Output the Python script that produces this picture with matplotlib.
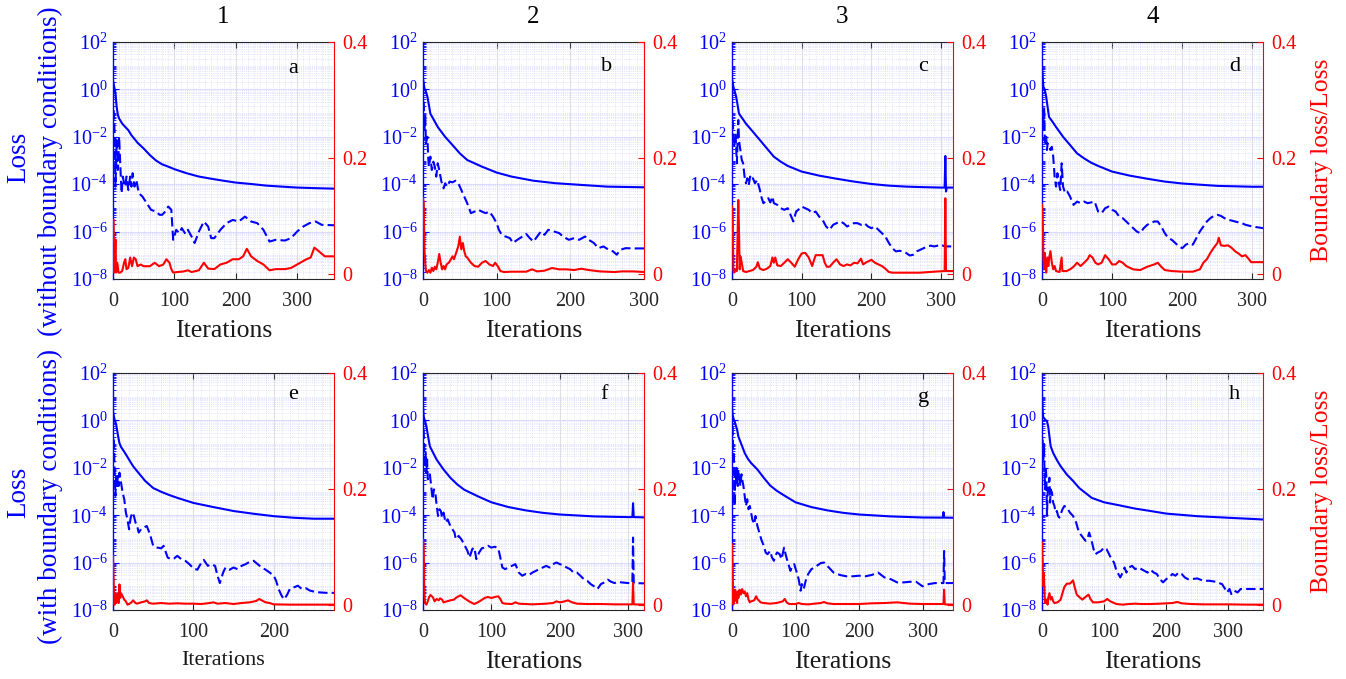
import numpy as np
import matplotlib
matplotlib.use('Agg')
import matplotlib.pyplot as plt
from matplotlib.ticker import FixedLocator, LogLocator, MultipleLocator, NullFormatter, FixedFormatter

plt.rcParams['font.family'] = ['Liberation Serif', 'DejaVu Serif']
plt.rcParams['mathtext.fontset'] = 'custom'
plt.rcParams['mathtext.rm'] = 'Liberation Serif'
plt.rcParams['mathtext.it'] = 'Liberation Serif:italic'
plt.rcParams['mathtext.bf'] = 'Liberation Serif:bold'

# ---------------- data ----------------
column_titles = ['1', '2', '3', '4']
panel_letters = ['a', 'b', 'c', 'd', 'e', 'f', 'g', 'h']
x_max = [360, 300, 317, 315, 275, 323, 348, 356]
x_ticks = [0, 100, 200, 300]
y_ticks = [1e-8, 1e-6, 1e-4, 1e-2, 1e0, 1e2]
y_tick_labels = ['$10^{-8}$', '$10^{-6}$', '$10^{-4}$', '$10^{-2}$', '$10^{0}$', '$10^{2}$']
r_ticks = [0, 0.2, 0.4]
r_tick_labels = ['0', '0.2', '0.4']
row_ylabels = [('Loss', '(without boundary conditions)'), ('Loss', '(with boundary conditions)')]
right_ylabel = 'Boundary loss/Loss'

# panel a
a_loss_x = [0, 2, 4, 6, 8, 10, 15, 20, 25, 30, 40, 50, 60, 70, 80, 90, 100, 120, 140, 160, 180, 200, 225, 250, 275, 300, 330, 360]
a_loss = [2.4, 1.3, 0.68, 0.18, 0.082, 0.059, 0.036, 0.026, 0.019, 0.0117, 5.6e-3, 3.2e-3, 1.7e-3, 1.0e-3, 6.9e-4, 5.5e-4, 4.3e-4, 2.9e-4, 2.1e-4, 1.7e-4, 1.4e-4, 1.17e-4, 1.02e-4, 8.7e-5, 7.9e-5, 7.2e-5, 6.8e-5, 6.5e-5]
a_part_x = [1, 3, 4, 6, 8, 10, 12, 14, 16, 18, 20, 22, 25, 28, 30, 32, 35, 38, 42, 48, 55, 62, 70, 76, 80, 85, 90, 95, 98, 103, 108, 112, 118, 122, 128, 133, 140, 148, 155, 160, 165, 175, 185, 195, 205, 215, 225, 235, 245, 255, 265, 280, 290, 300, 310, 320, 330, 340, 360]
a_part = [1.33e-1, 1.0e-2, 7.9e-5, 7.3e-3, 4.0e-4, 1.0e-2, 5.5e-4, 4.2e-5, 2.1e-4, 1.09e-4, 7.9e-5, 2.1e-4, 5.7e-5, 2.1e-4, 7.9e-5, 2.9e-4, 7.9e-5, 1.51e-4, 4.2e-5, 3.0e-5, 1.58e-5, 8.3e-6, 7.0e-6, 5.1e-6, 5.1e-6, 7.0e-6, 1.14e-5, 8.3e-6, 4.5e-7, 1.19e-6, 8.6e-7, 1.4e-6, 8.0e-7, 1.19e-6, 6.2e-7, 3.3e-7, 1.01e-6, 2.67e-6, 1.64e-6, 5.3e-7, 5.3e-7, 1.19e-6, 2.27e-6, 3.1e-6, 2.67e-6, 4.3e-6, 2.67e-6, 2.27e-6, 1.19e-6, 3.8e-7, 4.5e-7, 4.2e-7, 5.3e-7, 1.01e-6, 1.64e-6, 2.27e-6, 2.67e-6, 1.93e-6, 1.85e-6]
a_ratio_x = [0, 1, 2, 3, 4, 5, 7, 9, 12, 15, 18, 20, 22, 25, 28, 31, 34, 37, 40, 45, 50, 60, 68, 75, 82, 87, 92, 95, 98, 105, 115, 122, 128, 140, 148, 155, 165, 175, 185, 195, 205, 212, 218, 225, 235, 245, 255, 265, 280, 290, 300, 315, 322, 328, 335, 345, 360]
a_ratio = [0.094, 0.094, 0.003, 0.026, 0.06, 0.003, 0.02, 0.003, 0.003, 0.006, 0.02, 0.026, 0.009, 0.011, 0.029, 0.014, 0.029, 0.026, 0.014, 0.017, 0.014, 0.014, 0.02, 0.014, 0.017, 0.026, 0.02, 0.009, 0.003, 0.004, 0.005, 0.007, 0.004, 0.007, 0.02, 0.01, 0.009, 0.017, 0.02, 0.026, 0.026, 0.031, 0.044, 0.031, 0.023, 0.017, 0.007, 0.009, 0.009, 0.011, 0.017, 0.026, 0.029, 0.046, 0.04, 0.031, 0.031]

# panel b
b_loss_x = [0, 2, 4, 6, 8, 10, 15, 20, 30, 40, 50, 60, 70, 80, 100, 120, 150, 180, 200, 250, 300]
b_loss = [2.9, 1.1, 0.8, 0.49, 0.22, 0.095, 0.05, 0.026, 0.01, 4.5e-3, 2.0e-3, 1.05e-3, 7.6e-4, 5.5e-4, 3.1e-4, 2.1e-4, 1.4e-4, 1.1e-4, 1.0e-4, 7.9e-5, 7.4e-5]
b_part_x = [1, 2, 3, 4, 6, 7, 8, 10, 12, 14, 16, 18, 20, 22, 25, 28, 30, 33, 36, 40, 44, 48, 52, 56, 60, 65, 70, 75, 80, 85, 90, 95, 100, 103, 107, 112, 118, 122, 128, 135, 140, 145, 150, 155, 160, 165, 170, 178, 185, 190, 198, 205, 212, 220, 225, 232, 238, 245, 252, 258, 263, 268, 275, 285, 300]
b_part = [2.99e-1, 1.92e-2, 7.0e-2, 5.3e-3, 1.0e-2, 1.45e-3, 5.5e-4, 1.45e-3, 4.0e-4, 8.9e-4, 5.5e-4, 2.1e-4, 7.6e-4, 4.0e-4, 1.29e-4, 6.7e-5, 1.09e-4, 7.9e-5, 1.29e-4, 1.2e-4, 1.4e-4, 1.09e-4, 5.7e-5, 3.0e-5, 1.58e-5, 6.0e-6, 7.0e-6, 8.3e-6, 7.0e-6, 6.0e-6, 7.0e-6, 4.3e-6, 2.27e-6, 1.19e-6, 7.3e-7, 6.2e-7, 5.3e-7, 3.3e-7, 4.5e-7, 6.2e-7, 8.0e-7, 5.3e-7, 3.8e-7, 6.2e-7, 1.01e-6, 7.3e-7, 1.19e-6, 1.01e-6, 8.6e-7, 6.2e-7, 4.5e-7, 5.3e-7, 4.5e-7, 6.2e-7, 4.5e-7, 3.3e-7, 2.0e-7, 2.37e-7, 1.71e-7, 1.46e-7, 1.06e-7, 1.71e-7, 2.0e-7, 1.95e-7, 1.95e-7]
b_ratio_x = [0, 1, 2, 3, 4, 6, 8, 10, 12, 14, 16, 18, 20, 22, 24, 26, 28, 30, 32, 35, 38, 40, 42, 45, 48, 50, 52, 54, 56, 58, 60, 65, 70, 75, 80, 85, 90, 95, 98, 102, 105, 110, 120, 130, 140, 148, 155, 165, 175, 185, 195, 205, 215, 225, 240, 260, 270, 285, 300]
b_ratio = [0.131, 0.123, 0.043, 0.020, 0.0057, 0.0029, 0.0074, 0.0029, 0.0114, 0.0057, 0.0131, 0.0086, 0.020, 0.035, 0.020, 0.0086, 0.0143, 0.0086, 0.0171, 0.020, 0.026, 0.031, 0.026, 0.037, 0.049, 0.065, 0.043, 0.054, 0.040, 0.031, 0.029, 0.020, 0.0143, 0.0131, 0.020, 0.023, 0.0171, 0.0143, 0.020, 0.0131, 0.0057, 0.0040, 0.0046, 0.0046, 0.0046, 0.0086, 0.0051, 0.0063, 0.0109, 0.0086, 0.0086, 0.0074, 0.0097, 0.0074, 0.0051, 0.0040, 0.0051, 0.0051, 0.0040]

# panel c
c_loss_x = [0, 2, 4, 6, 8, 10, 15, 20, 30, 40, 50, 60, 70, 80, 100, 125, 150, 175, 200, 225, 250, 275, 300, 305, 306, 307, 308, 310, 317]
c_loss = [2.9, 1.3, 0.8, 0.49, 0.22, 0.095, 0.059, 0.036, 0.0163, 7.3e-3, 3.25e-3, 1.45e-3, 8.9e-4, 5.9e-4, 3.4e-4, 2.3e-4, 1.7e-4, 1.29e-4, 1.02e-4, 8.7e-5, 7.9e-5, 7.5e-5, 7.2e-5, 7.2e-5, 1.55e-3, 4.9e-5, 7.2e-5, 7.2e-5, 7.2e-5]
c_part_x = [1, 2, 3, 5, 7, 9, 10, 12, 14, 16, 18, 20, 22, 24, 26, 28, 30, 33, 36, 40, 42, 45, 48, 52, 55, 58, 60, 65, 70, 75, 80, 85, 88, 92, 95, 100, 105, 110, 115, 120, 125, 130, 135, 140, 145, 150, 155, 160, 165, 170, 175, 180, 185, 190, 195, 200, 205, 210, 215, 220, 225, 230, 235, 240, 245, 250, 255, 260, 265, 270, 275, 280, 285, 290, 295, 300, 305, 310, 317]
c_part = [5.1e-2, 1.0e-2, 3.8e-3, 1.39e-2, 7.6e-4, 5.1e-2, 7.3e-3, 2.77e-3, 1.05e-3, 7.6e-4, 2.1e-4, 1.09e-4, 1.78e-4, 9.3e-5, 2.1e-4, 1.51e-4, 1.78e-4, 1.09e-4, 1.51e-4, 5.7e-5, 3.0e-5, 1.58e-5, 1.85e-5, 2.56e-5, 1.7e-5, 3.0e-5, 1.58e-5, 1.34e-5, 9.7e-6, 8.3e-6, 9.7e-6, 4.3e-6, 2.67e-6, 7.0e-6, 8.3e-6, 1.14e-5, 9.7e-6, 8.3e-6, 6.0e-6, 7.0e-6, 4.3e-6, 3.1e-6, 1.64e-6, 1.19e-6, 1.93e-6, 2.27e-6, 2.67e-6, 2.27e-6, 1.64e-6, 1.93e-6, 2.27e-6, 2.27e-6, 1.93e-6, 2.27e-6, 1.64e-6, 1.4e-6, 1.64e-6, 1.19e-6, 8.6e-7, 6.2e-7, 3.3e-7, 2.0e-7, 1.46e-7, 1.55e-7, 1.46e-7, 1.24e-7, 9.8e-8, 1.06e-7, 1.46e-7, 1.71e-7, 2.0e-7, 2.37e-7, 2.55e-7, 2.37e-7, 2.55e-7, 2.8e-7, 2.37e-7, 2.37e-7, 2.37e-7]
c_ratio_x = [0, 1, 2, 3, 5, 7, 9, 10, 11, 12, 14, 16, 20, 25, 30, 35, 37, 40, 45, 50, 55, 58, 60, 62, 65, 70, 75, 80, 85, 90, 95, 100, 105, 110, 115, 118, 120, 125, 130, 133, 136, 140, 145, 150, 155, 160, 165, 170, 175, 180, 185, 188, 193, 200, 205, 210, 215, 220, 225, 230, 250, 270, 290, 305, 306, 307, 317]
c_ratio = [0.117, 0.100, 0.0086, 0.0029, 0.0086, 0.0057, 0.128, 0.077, 0.0086, 0.031, 0.020, 0.0057, 0.0040, 0.0057, 0.0074, 0.0131, 0.021, 0.0097, 0.0074, 0.0097, 0.0143, 0.029, 0.020, 0.029, 0.0154, 0.0143, 0.020, 0.026, 0.020, 0.0131, 0.026, 0.036, 0.037, 0.029, 0.0143, 0.026, 0.033, 0.033, 0.033, 0.020, 0.0131, 0.0131, 0.020, 0.026, 0.0171, 0.0143, 0.0171, 0.0154, 0.020, 0.019, 0.027, 0.0171, 0.021, 0.025, 0.020, 0.0171, 0.0143, 0.0097, 0.0040, 0.0029, 0.0029, 0.0029, 0.0046, 0.0057, 0.131, 0.0057, 0.0057]

# panel d
d_loss_x = [0, 1, 2, 4, 6, 8, 10, 15, 20, 30, 40, 50, 60, 70, 80, 100, 125, 150, 175, 200, 250, 300, 315]
d_loss = [10.0, 3.4, 1.3, 0.96, 0.49, 0.18, 0.069, 0.043, 0.026, 0.01, 4.5e-3, 2.0e-3, 1.23e-3, 8.1e-4, 5.9e-4, 3.4e-4, 2.3e-4, 1.7e-4, 1.29e-4, 1.07e-4, 8.5e-5, 7.8e-5, 7.8e-5]
d_part_x = [1, 2, 3, 4, 5, 6, 7, 8, 10, 12, 14, 16, 18, 20, 22, 24, 26, 28, 30, 33, 36, 40, 45, 50, 55, 60, 65, 70, 75, 80, 85, 90, 95, 100, 105, 110, 115, 120, 125, 130, 135, 140, 145, 150, 155, 160, 165, 170, 175, 180, 185, 190, 195, 200, 205, 210, 215, 220, 225, 230, 235, 240, 245, 250, 255, 260, 265, 270, 275, 280, 285, 290, 300, 315]
d_part = [9.7e-2, 1.92e-2, 1.84e-1, 7.3e-3, 5.3e-3, 1.0e-2, 2.77e-3, 5.3e-3, 4.5e-3, 2.77e-3, 3.8e-3, 1.45e-3, 2.1e-4, 7.9e-5, 2.9e-4, 1.09e-4, 5.7e-5, 7.6e-4, 7.9e-5, 4.2e-5, 4.9e-5, 3.0e-5, 1.34e-5, 1.85e-5, 1.58e-5, 1.85e-5, 1.58e-5, 1.7e-5, 1.85e-5, 7.0e-6, 6.0e-6, 9.7e-6, 1.14e-5, 8.3e-6, 7.0e-6, 4.3e-6, 3.7e-6, 2.67e-6, 1.93e-6, 1.4e-6, 1.01e-6, 8.6e-7, 1.4e-6, 1.93e-6, 2.27e-6, 2.67e-6, 2.67e-6, 1.64e-6, 8.6e-7, 5.3e-7, 4.5e-7, 3.3e-7, 2.37e-7, 2.0e-7, 2.8e-7, 3.3e-7, 2.8e-7, 5.3e-7, 1.01e-6, 1.64e-6, 2.67e-6, 3.7e-6, 4.6e-6, 5.1e-6, 4.6e-6, 3.7e-6, 3.1e-6, 2.95e-6, 2.67e-6, 2.45e-6, 2.27e-6, 1.93e-6, 1.64e-6, 1.4e-6]
d_ratio_x = [0, 1, 2, 3, 4, 5, 6, 7, 8, 9, 10, 12, 14, 16, 18, 20, 25, 28, 29, 35, 40, 45, 50, 55, 60, 65, 68, 72, 76, 80, 85, 90, 95, 100, 105, 110, 115, 120, 130, 140, 150, 160, 165, 170, 175, 185, 200, 215, 225, 230, 235, 240, 245, 250, 252, 255, 260, 265, 270, 275, 280, 285, 290, 295, 298, 315]
d_ratio = [0.120, 0.100, 0.031, 0.0086, 0.037, 0.020, 0.0029, 0.020, 0.029, 0.0143, 0.026, 0.040, 0.020, 0.0086, 0.0143, 0.0057, 0.0040, 0.029, 0.0057, 0.0057, 0.0086, 0.0131, 0.020, 0.0143, 0.020, 0.026, 0.033, 0.029, 0.020, 0.0171, 0.020, 0.033, 0.026, 0.0171, 0.0171, 0.023, 0.020, 0.0143, 0.0086, 0.0074, 0.0131, 0.0171, 0.020, 0.0131, 0.0074, 0.0057, 0.0046, 0.0046, 0.0086, 0.020, 0.026, 0.037, 0.046, 0.054, 0.063, 0.050, 0.049, 0.050, 0.046, 0.040, 0.036, 0.031, 0.033, 0.026, 0.021, 0.021]

# panel e
e_loss_x = [0, 2, 4, 6, 8, 10, 15, 20, 25, 30, 40, 50, 60, 70, 80, 100, 125, 150, 175, 200, 225, 250, 275]
e_loss = [2.4, 1.07, 0.66, 0.25, 0.11, 0.076, 0.042, 0.022, 0.0117, 7.2e-3, 2.8e-3, 1.4e-3, 9.7e-4, 7.1e-4, 5.4e-4, 3.3e-4, 2.2e-4, 1.5e-4, 1.15e-4, 9.1e-5, 7.8e-5, 7.1e-5, 7.1e-5]
e_part_x = [1, 2, 3, 4, 5, 6, 7, 8, 9, 10, 12, 14, 16, 18, 20, 22, 24, 26, 28, 30, 32, 35, 38, 42, 46, 50, 55, 60, 63, 68, 72, 76, 80, 85, 90, 95, 100, 105, 110, 113, 118, 122, 127, 130, 133, 137, 140, 145, 150, 155, 160, 165, 170, 175, 180, 185, 190, 195, 200, 203, 206, 210, 213, 217, 220, 225, 230, 235, 240, 245, 250, 255, 265, 275]
e_part = [1.57e-1, 8.6e-3, 6.5e-4, 5.3e-3, 1.45e-3, 4.5e-3, 1.7e-3, 6.2e-3, 3.8e-3, 2.35e-3, 8.9e-4, 4.7e-4, 1.29e-4, 6.7e-5, 2.56e-5, 7.9e-5, 1.29e-4, 9.3e-5, 4.9e-5, 3.5e-5, 1.85e-5, 2.56e-5, 3.0e-5, 3.5e-5, 1.58e-5, 5.1e-6, 4.3e-6, 4.0e-6, 5.1e-6, 1.64e-6, 1.4e-6, 1.5e-6, 1.93e-6, 1.4e-6, 1.19e-6, 8.6e-7, 5.7e-7, 5.0e-7, 1.01e-6, 1.3e-6, 7.3e-7, 8.6e-7, 7.3e-7, 2.8e-7, 1.37e-7, 3.8e-7, 6.2e-7, 5.0e-7, 6.2e-7, 5.3e-7, 7.3e-7, 8.6e-7, 1.08e-6, 1.19e-6, 8.6e-7, 6.2e-7, 5.0e-7, 3.8e-7, 2.8e-7, 1.71e-7, 7.7e-8, 3.9e-8, 2.8e-8, 4.6e-8, 7.7e-8, 9.0e-8, 1.06e-7, 7.7e-8, 8.3e-8, 6.6e-8, 6.0e-8, 5.6e-8, 5.3e-8, 5.3e-8]
e_ratio_x = [0, 1, 2, 3, 4, 5, 6, 7, 8, 9, 10, 12, 14, 16, 18, 20, 23, 25, 28, 30, 35, 40, 42, 45, 50, 60, 70, 80, 90, 100, 110, 120, 125, 130, 140, 150, 160, 170, 178, 182, 185, 190, 195, 200, 220, 240, 275]
e_ratio = [0.085, 0.033, 0.0012, 0.021, 0.0040, 0.0127, 0.021, 0.0040, 0.036, 0.0127, 0.021, 0.0156, 0.0098, 0.0069, 0.0012, 0.0023, 0.0052, 0.0086, 0.0040, 0.0029, 0.0052, 0.0069, 0.0086, 0.0040, 0.0029, 0.0040, 0.0029, 0.0035, 0.0029, 0.0029, 0.0023, 0.0040, 0.0052, 0.0029, 0.0040, 0.0023, 0.0040, 0.0052, 0.0075, 0.0110, 0.0086, 0.0052, 0.0040, 0.0017, 0.0012, 0.0012, 0.0012]

# panel f
f_loss_x = [0, 1, 3, 5, 7, 10, 15, 20, 30, 40, 50, 60, 70, 80, 100, 125, 150, 175, 200, 250, 300, 306, 307, 308, 310, 323]
f_loss = [4.0, 1.5, 0.9, 0.56, 0.25, 0.081, 0.042, 0.022, 8.5e-3, 3.8e-3, 2.0e-3, 1.2e-3, 8.7e-4, 6.3e-4, 3.5e-4, 2.2e-4, 1.6e-4, 1.26e-4, 1.07e-4, 8.9e-5, 8.3e-5, 8.3e-5, 3.2e-4, 8.3e-5, 8.3e-5, 8.1e-5]
f_part_x = [1, 2, 3, 4, 5, 6, 7, 8, 10, 12, 14, 16, 18, 20, 22, 24, 26, 28, 30, 33, 36, 40, 43, 46, 48, 52, 56, 60, 65, 68, 72, 75, 78, 82, 86, 90, 95, 100, 105, 110, 113, 116, 120, 125, 130, 135, 140, 145, 150, 155, 160, 165, 170, 175, 180, 185, 190, 195, 200, 205, 210, 215, 220, 225, 230, 235, 240, 245, 250, 255, 260, 265, 270, 275, 280, 285, 290, 300, 306, 307, 308, 323]
f_part = [4.13e-1, 3.1e-2, 1.18e-2, 4.3e-2, 6.2e-3, 2.25e-2, 3.25e-3, 3.8e-3, 5.3e-3, 1.7e-3, 4.7e-4, 1.23e-3, 8.9e-4, 2.45e-4, 9.3e-5, 1.78e-4, 1.51e-4, 7.9e-5, 1.29e-4, 4.9e-5, 6.7e-5, 3.5e-5, 2.56e-5, 1.85e-5, 9.7e-6, 1.34e-5, 9.7e-6, 6.0e-6, 3.1e-6, 1.64e-6, 3.7e-6, 4.3e-6, 1.4e-6, 2.67e-6, 4.0e-6, 4.3e-6, 5.1e-6, 4.3e-6, 4.7e-6, 4.0e-6, 1.64e-6, 6.2e-7, 5.3e-7, 6.2e-7, 7.3e-7, 8.6e-7, 3.8e-7, 2.8e-7, 3.3e-7, 3.0e-7, 3.8e-7, 4.5e-7, 5.3e-7, 6.2e-7, 7.3e-7, 6.2e-7, 8.6e-7, 1.01e-6, 8.6e-7, 7.8e-7, 6.2e-7, 5.3e-7, 3.8e-7, 3.8e-7, 2.8e-7, 2.0e-7, 1.71e-7, 1.24e-7, 1.0e-7, 7.7e-8, 1.24e-7, 1.46e-7, 1.9e-7, 1.55e-7, 1.37e-7, 1.55e-7, 1.46e-7, 1.37e-7, 1.37e-7, 1.14e-5, 1.37e-7, 1.33e-7]
f_ratio_x = [0, 1, 2, 3, 5, 7, 9, 11, 13, 15, 17, 20, 23, 25, 28, 30, 35, 40, 45, 50, 55, 60, 65, 70, 75, 80, 85, 90, 95, 100, 105, 110, 113, 116, 120, 130, 135, 140, 150, 160, 170, 180, 190, 195, 200, 205, 212, 218, 225, 240, 260, 280, 300, 306, 307, 308, 323]
f_ratio = [0.113, 0.102, 0.021, 0.0040, 0.0012, 0.0069, 0.0144, 0.0179, 0.0156, 0.0127, 0.0069, 0.0110, 0.0086, 0.0121, 0.0098, 0.0052, 0.0069, 0.0086, 0.0098, 0.0144, 0.0173, 0.0127, 0.0086, 0.0052, 0.0023, 0.0052, 0.0086, 0.0127, 0.0144, 0.0127, 0.0144, 0.0156, 0.0110, 0.0040, 0.0029, 0.0023, 0.0052, 0.0029, 0.0023, 0.0017, 0.0023, 0.0029, 0.0040, 0.0069, 0.0052, 0.0063, 0.0086, 0.0052, 0.0029, 0.0023, 0.0023, 0.0017, 0.0017, 0.0017, 0.0386, 0.0017, 0.0012]

# panel g
g_loss_x = [0, 1, 3, 5, 8, 10, 15, 20, 25, 30, 40, 50, 60, 70, 80, 100, 125, 150, 175, 200, 250, 300, 332, 333, 334, 335, 348]
g_loss = [4.0, 1.7, 1.07, 0.77, 0.41, 0.21, 0.095, 0.042, 0.024, 0.016, 8.5e-3, 3.8e-3, 1.8e-3, 1.1e-3, 7.4e-4, 3.5e-4, 2.2e-4, 1.6e-4, 1.26e-4, 1.07e-4, 8.9e-5, 8.0e-5, 7.9e-5, 1.35e-4, 7.9e-5, 7.9e-5, 7.8e-5]
g_part_x = [1, 2, 3, 4, 5, 6, 7, 8, 9, 10, 11, 12, 13, 15, 16, 18, 20, 22, 24, 26, 28, 30, 32, 35, 37, 40, 43, 46, 50, 53, 56, 60, 63, 66, 68, 71, 75, 78, 82, 85, 88, 92, 95, 98, 102, 105, 108, 110, 113, 116, 120, 125, 130, 135, 140, 145, 150, 160, 170, 180, 190, 200, 210, 220, 230, 240, 250, 260, 270, 280, 290, 300, 310, 320, 332, 333, 334, 335, 348]
g_part = [5.7e-1, 2.25e-2, 4.3e-2, 2.45e-4, 1.18e-2, 2.35e-3, 1.0e-2, 5.3e-3, 1.7e-3, 8.6e-3, 3.25e-3, 5.3e-3, 1.7e-3, 5.3e-3, 3.25e-3, 1.7e-3, 6.5e-4, 2.45e-4, 4.7e-4, 1.78e-4, 2.45e-4, 1.29e-4, 6.7e-5, 4.2e-5, 9.3e-5, 3.5e-5, 1.85e-5, 9.7e-6, 5.1e-6, 2.67e-6, 2.27e-6, 3.1e-6, 1.64e-6, 1.19e-6, 1.93e-6, 2.67e-6, 2.27e-6, 1.4e-6, 4.3e-6, 1.93e-6, 1.01e-6, 4.5e-7, 7.3e-7, 8.6e-7, 3.8e-7, 2.0e-7, 6.5e-8, 1.24e-7, 7.7e-8, 1.71e-7, 3.3e-7, 5.3e-7, 6.2e-7, 7.8e-7, 9.6e-7, 1.01e-6, 7.3e-7, 3.8e-7, 3.0e-7, 2.65e-7, 2.65e-7, 2.8e-7, 2.65e-7, 3.0e-7, 3.8e-7, 2.37e-7, 2.0e-7, 1.46e-7, 1.46e-7, 1.55e-7, 1.55e-7, 1.0e-7, 1.24e-7, 1.37e-7, 1.37e-7, 1.37e-7, 3.1e-6, 1.37e-7, 1.37e-7]
g_ratio_x = [0, 1, 2, 3, 4, 5, 6, 7, 8, 9, 10, 12, 14, 16, 18, 20, 22, 24, 26, 28, 30, 35, 38, 40, 45, 50, 60, 70, 80, 83, 86, 90, 100, 105, 110, 120, 130, 140, 145, 150, 160, 180, 200, 220, 240, 260, 280, 300, 320, 333, 334, 335, 348]
g_ratio = [0.105, 0.067, 0.0012, 0.021, 0.0069, 0.027, 0.0098, 0.021, 0.0040, 0.024, 0.0127, 0.027, 0.0184, 0.028, 0.021, 0.024, 0.0156, 0.021, 0.0098, 0.0052, 0.0069, 0.0086, 0.0156, 0.0110, 0.0052, 0.0040, 0.0029, 0.0040, 0.0069, 0.0110, 0.0052, 0.0023, 0.0023, 0.0040, 0.0023, 0.0017, 0.0029, 0.0040, 0.0058, 0.0035, 0.0023, 0.0023, 0.0023, 0.0035, 0.0040, 0.0052, 0.0029, 0.0023, 0.0023, 0.0023, 0.027, 0.0017, 0.0012]

# panel h
h_loss_x = [0, 1, 2, 5, 8, 10, 12, 14, 18, 25, 30, 40, 50, 60, 70, 80, 100, 125, 150, 175, 200, 250, 300, 356]
h_loss = [14.0, 2.8, 1.38, 1.1, 0.9, 0.56, 0.21, 0.081, 0.042, 0.019, 0.0117, 5.2e-3, 2.8e-3, 1.4e-3, 8.7e-4, 5.4e-4, 3.5e-4, 2.6e-4, 1.9e-4, 1.5e-4, 1.17e-4, 9.1e-5, 7.8e-5, 6.6e-5]
h_part_x = [1, 2, 3, 4, 5, 6, 7, 8, 9, 10, 12, 13, 14, 16, 18, 20, 22, 24, 26, 28, 30, 33, 36, 40, 45, 50, 55, 58, 62, 66, 70, 73, 76, 80, 83, 86, 90, 95, 100, 104, 108, 112, 116, 120, 123, 126, 130, 133, 136, 140, 145, 150, 155, 160, 165, 170, 175, 180, 185, 190, 195, 200, 205, 210, 215, 220, 225, 230, 235, 240, 250, 260, 270, 280, 285, 290, 295, 298, 302, 305, 310, 315, 320, 330, 340, 356]
h_part = [1.57e-1, 2.25e-2, 1.13e-1, 8.6e-3, 1.23e-3, 1.18e-2, 4.5e-3, 9.3e-5, 8.9e-4, 1.7e-3, 3.8e-3, 3.4e-4, 1.23e-3, 8.9e-4, 3.4e-4, 2.45e-4, 1.29e-4, 1.51e-4, 9.3e-5, 7.9e-5, 1.09e-4, 1.78e-4, 2.45e-4, 2.1e-4, 1.29e-4, 9.3e-5, 4.9e-5, 2.56e-5, 1.58e-5, 1.14e-5, 8.3e-6, 9.7e-6, 1.85e-5, 8.3e-6, 3.7e-6, 2.27e-6, 2.67e-6, 3.1e-6, 4.3e-6, 3.7e-6, 2.27e-6, 1.4e-6, 1.01e-6, 4.5e-7, 3.3e-7, 2.37e-7, 3.8e-7, 6.2e-7, 3.8e-7, 6.2e-7, 7.3e-7, 5.3e-7, 6.2e-7, 5.3e-7, 4.5e-7, 3.8e-7, 5.0e-7, 3.8e-7, 3.3e-7, 2.0e-7, 1.46e-7, 2.0e-7, 2.37e-7, 3.3e-7, 2.8e-7, 3.8e-7, 3.3e-7, 2.37e-7, 2.0e-7, 2.0e-7, 2.15e-7, 1.71e-7, 1.71e-7, 1.55e-7, 1.37e-7, 1.24e-7, 7.7e-8, 5.5e-8, 7.7e-8, 4.7e-8, 6.5e-8, 5.5e-8, 7.7e-8, 7.7e-8, 7.7e-8, 7.7e-8]
h_ratio_x = [0, 1, 2, 3, 4, 5, 7, 9, 10, 12, 14, 16, 18, 20, 25, 30, 33, 36, 40, 45, 50, 53, 56, 60, 65, 70, 75, 78, 82, 90, 100, 105, 110, 120, 130, 140, 150, 160, 175, 190, 210, 218, 225, 240, 260, 280, 300, 330, 356]
h_ratio = [0.108, 0.079, 0.033, 0.056, 0.021, 0.0040, 0.0098, 0.0012, 0.0127, 0.021, 0.0098, 0.0144, 0.0069, 0.0040, 0.0052, 0.0098, 0.021, 0.0317, 0.0374, 0.0374, 0.043, 0.030, 0.0184, 0.0144, 0.0098, 0.0144, 0.0184, 0.0110, 0.0052, 0.0052, 0.0069, 0.0110, 0.0069, 0.0023, 0.0012, 0.0023, 0.0029, 0.0023, 0.0023, 0.0029, 0.0040, 0.0058, 0.0035, 0.0023, 0.0017, 0.0017, 0.0017, 0.0012, 0.0012]

# ---------------- figure ----------------
W, H = 1346, 679
fig = plt.figure(figsize=(W / 100, H / 100), dpi=100)

lefts = [113, 423, 732, 1042]
tops = [42, 373]
aw, ah = 221, 237

panels = [
    (a_loss_x, a_loss, a_part_x, a_part, a_ratio_x, a_ratio),
    (b_loss_x, b_loss, b_part_x, b_part, b_ratio_x, b_ratio),
    (c_loss_x, c_loss, c_part_x, c_part, c_ratio_x, c_ratio),
    (d_loss_x, d_loss, d_part_x, d_part, d_ratio_x, d_ratio),
    (e_loss_x, e_loss, e_part_x, e_part, e_ratio_x, e_ratio),
    (f_loss_x, f_loss, f_part_x, f_part, f_ratio_x, f_ratio),
    (g_loss_x, g_loss, g_part_x, g_part, g_ratio_x, g_ratio),
    (h_loss_x, h_loss, h_part_x, h_part, h_ratio_x, h_ratio),
]
letter_pos = [(0.815, 0.89), (0.83, 0.895), (0.865, 0.895), (0.87, 0.895),
              (0.815, 0.91), (0.82, 0.91), (0.865, 0.895), (0.87, 0.91)]

BLUE = (0, 0, 1)
RED = (1, 0, 0)
DARK = (0.15, 0.15, 0.15)
TICK_FS = 14.5

for i, (lx, ly, px, py, rx, ry) in enumerate(panels):
    r, c = divmod(i, 4)
    ax = fig.add_axes([lefts[c] / W, 1 - (tops[r] + ah) / H, aw / W, ah / H])
    ax.set_yscale('log')
    ax.set_ylim(1e-8, 1e2)
    ax.set_xlim(0, x_max[i])
    ax.plot(lx, ly, color=BLUE, lw=1.5, zorder=3)
    ax.plot(px, py, color=BLUE, lw=1.5, linestyle=(0, (4.5, 2.0)), zorder=3)

    ax.yaxis.set_major_locator(FixedLocator(y_ticks))
    ax.yaxis.set_major_formatter(FixedFormatter(y_tick_labels))
    ax.yaxis.set_minor_locator(LogLocator(base=10, subs=np.arange(1, 10), numticks=100))
    ax.yaxis.set_minor_formatter(NullFormatter())
    ax.xaxis.set_major_locator(FixedLocator(x_ticks))
    ax.xaxis.set_minor_locator(MultipleLocator(10))

    ax.grid(True, which='major', axis='y', color=(0.86, 0.86, 1.0), lw=0.8, zorder=0)
    ax.grid(True, which='minor', axis='y', color=(0.80, 0.80, 1.0), lw=0.5, linestyle=':', zorder=0)
    ax.grid(True, which='major', axis='x', color=(0.88, 0.88, 0.88), lw=0.8, zorder=0)
    ax.grid(True, which='minor', axis='x', color=(0.84, 0.84, 0.95), lw=0.5, linestyle=':', zorder=0)
    ax.set_axisbelow(True)

    ax.tick_params(axis='y', which='both', direction='in', colors=BLUE, labelsize=TICK_FS, pad=4)
    ax.tick_params(axis='y', which='major', length=4, width=0.8)
    ax.tick_params(axis='y', which='minor', length=2, width=0.6)
    ax.tick_params(axis='x', which='both', direction='in', colors=DARK, labelcolor=DARK,
                   labelsize=TICK_FS, top=True, pad=9.5)
    ax.tick_params(axis='x', which='major', length=4, width=0.8)
    ax.tick_params(axis='x', which='minor', length=0)

    ax.spines['left'].set_color(BLUE)
    ax.spines['left'].set_linewidth(1.0)
    ax.spines['right'].set_visible(False)
    for s in ('top', 'bottom'):
        ax.spines[s].set_color(DARK)
        ax.spines[s].set_linewidth(0.8)

    ax2 = ax.twinx()
    ax2.plot(rx, ry, color=RED, lw=1.5, zorder=4)
    ax2.set_ylim(-0.008, 0.4)
    ax2.set_xlim(0, x_max[i])
    ax2.yaxis.set_major_locator(FixedLocator(r_ticks))
    ax2.yaxis.set_major_formatter(FixedFormatter(r_tick_labels))
    ax2.tick_params(axis='y', direction='in', colors=RED, labelsize=TICK_FS, length=4, width=0.8, pad=6)
    ax2.spines['right'].set_color(RED)
    ax2.spines['right'].set_linewidth(0.8)
    ax2.spines['left'].set_visible(False)
    ax2.spines['top'].set_visible(False)
    ax2.spines['bottom'].set_visible(False)

    xl_fs = 16 if i == 4 else 18.5
    ax.set_xlabel('Iterations', fontsize=xl_fs, color=(0.1, 0.1, 0.1))
    ax.xaxis.set_label_coords(0.5, -0.172)

    ax.text(letter_pos[i][0], letter_pos[i][1], panel_letters[i], transform=ax.transAxes,
            fontsize=16, ha='center', va='center', color='black', zorder=10)

    if r == 0:
        ax.set_title(column_titles[c], fontsize=18, pad=14)

    if c == 0:
        first, second = row_ylabels[r]
        ax.set_ylabel(first, fontsize=19.5, color=BLUE)
        # "Loss" line, centred as in the reference
        cy_first = 157 if r == 0 else 492
        cy_second = 171 if r == 0 else 496
        ax.yaxis.set_label_coords((19 - lefts[c]) / aw, (tops[r] + ah - cy_first) / ah)
        ax.yaxis.label.set_verticalalignment('center')
        ax.text((50 - lefts[c]) / aw, (tops[r] + ah - cy_second) / ah, second,
                transform=ax.transAxes, rotation=90, fontsize=19.5, color=BLUE,
                ha='center', va='center', clip_on=False)
    if c == 3:
        ax2.set_ylabel(right_ylabel, fontsize=18.5, color=RED)
        ax2.yaxis.set_label_coords(1.215, 0.5)

fig.savefig('out.png', dpi=100)
